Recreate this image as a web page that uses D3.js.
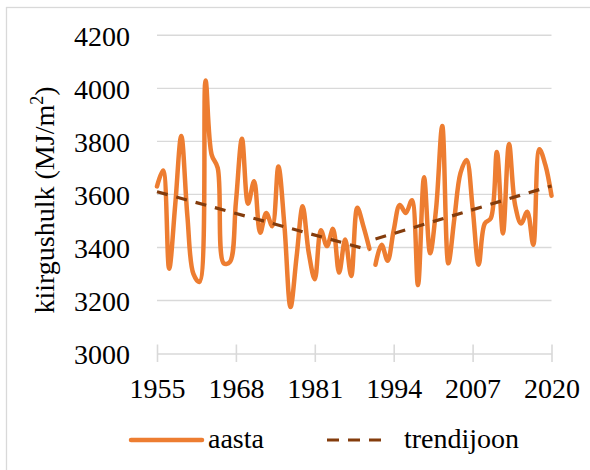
<!DOCTYPE html>
<html><head><meta charset="utf-8">
<script src="https://cdn.jsdelivr.net/npm/d3@7"></script>
<style>html,body{margin:0;padding:0;background:#fff;} svg{display:block;} svg text{font-family:'Liberation Serif','Times New Roman',serif;}</style>
</head><body>
<svg id="c" width="590" height="470"></svg>
<script>
// ---- data ----
const years1 = [1955,1956,1957,1958,1959,1960,1961,1962,1963,1964,1965,1966,1967,1968,1969,1970,1971,1972,1973,1974,1975,1976,1977,1978,1979,1980,1981,1982,1983,1984,1985,1986,1987,1988,1989,1990];
const values1 = [3630,3690,3320,3560,3820,3520,3300,3270,4030,3750,3700,3340,3345,3570,3810,3565,3650,3455,3530,3480,3705,3480,3175,3365,3555,3380,3280,3465,3405,3470,3305,3430,3292,3550,3480,3395];
const years2 = [1991,1992,1993,1994,1995,1996,1997,1998,1999,2000,2001,2002,2003,2004,2005,2006,2007,2008,2009,2010,2011,2012,2013,2014,2015,2016,2017,2018,2019,2020];
const values2 = [3335,3410,3350,3465,3560,3530,3578,3258,3665,3378,3550,3858,3340,3510,3680,3730,3550,3335,3490,3510,3760,3453,3790,3560,3490,3535,3410,3770,3710,3595];
const trend1Years = [1955,1990];
const trend1Values = [3610,3390];
const trend2Years = [1991,2020];
const trend2Values = [3432,3632];
const xTicks = [1955,1968,1981,1994,2007,2020];
const yTicks = [3000,3200,3400,3600,3800,4000,4200];
const seriesNames = ["aasta","trendijoon"];
const yTitleMain = "kiirgushulk (MJ/m";
const yTitleSup = "2";
const yTitleEnd = ")";

// ---- drawing ----
const FONT = "'Liberation Serif','Times New Roman',serif";
const ORANGE = "#ED7D31", BROWN = "#843C0C", GRID = "#d9d9d9";
const svg = d3.select("#c");
const L = 157, R = 551.5, T = 35.3, B = 353.5;
const x = d3.scaleLinear().domain([1955,2020]).range([L,R]);
const y = d3.scaleLinear().domain([3000,4200]).range([B,T]);

svg.append("rect").attr("x",6.5).attr("y",7.5).attr("width",620).attr("height",520)
  .attr("fill","#fff").attr("stroke",GRID).attr("stroke-width",1.3);

// gridlines
svg.append("g").selectAll("line").data(yTicks.filter(v=>v>3000)).join("line")
  .attr("x1",L).attr("x2",R).attr("y1",d=>y(d)).attr("y2",d=>y(d))
  .attr("stroke",GRID).attr("stroke-width",1.4);

// y axis labels
const ya = svg.append("g").attr("transform",`translate(${L},0)`)
  .call(d3.axisLeft(y).tickValues(yTicks).tickSize(0).tickPadding(27).tickFormat(d3.format("d")));
ya.attr("font-family",FONT).attr("font-size",28);
ya.select(".domain").remove();
ya.selectAll("text").style("font-family",FONT).attr("font-size",28).attr("fill","#000").attr("dy","0.36em");

// x axis
const xa = svg.append("g").attr("transform",`translate(0,${B})`)
  .call(d3.axisBottom(x).tickValues(xTicks).tickSize(0).tickFormat(d3.format("d")));
xa.attr("font-family",FONT).attr("font-size",28);
xa.select(".domain").attr("stroke",GRID).attr("stroke-width",1.6);
xa.selectAll(".tick line").attr("y1",-9).attr("y2",8.5).attr("stroke",GRID).attr("stroke-width",1.6);
xa.selectAll("text").style("font-family",FONT).attr("font-size",28).attr("fill","#000").attr("y",44.5).attr("dy",0);

// y title
const tt = svg.append("text").attr("transform","translate(54,200) rotate(-90)")
  .attr("text-anchor","middle").style("font-family",FONT).attr("font-size",28).attr("fill","#000");
tt.append("tspan").text(yTitleMain);
tt.append("tspan").text(yTitleSup).attr("font-size",18).attr("dy",-11);
tt.append("tspan").text(yTitleEnd).attr("font-size",28).attr("dy",11);

// data lines
const line = d3.line().x(d=>x(d[0])).y(d=>y(d[1])).curve(d3.curveCatmullRom.alpha(0.5));
[[years1,values1],[years2,values2]].forEach(([ys,vs])=>{
  svg.append("path").datum(ys.map((yr,i)=>[yr,vs[i]])).attr("d",line)
    .attr("fill","none").attr("stroke",ORANGE).attr("stroke-width",4.5)
    .attr("stroke-linejoin","round").attr("stroke-linecap","round");
});
// trend lines
const tline = d3.line().x(d=>x(d[0])).y(d=>y(d[1]));
[[trend1Years,trend1Values],[trend2Years,trend2Values]].forEach(([ys,vs])=>{
  svg.append("path").datum(ys.map((yr,i)=>[yr,vs[i]])).attr("d",tline)
    .attr("fill","none").attr("stroke",BROWN).attr("stroke-width",3.2)
    .attr("stroke-dasharray","11,9");
});

// legend
const lg = svg.append("g");
lg.append("line").attr("x1",131).attr("x2",202).attr("y1",440).attr("y2",440)
  .attr("stroke",ORANGE).attr("stroke-width",4.5).attr("stroke-linecap","round");
lg.append("text").attr("x",208).attr("y",448).text(seriesNames[0])
  .style("font-family",FONT).attr("font-size",28).attr("fill","#000");
lg.append("line").attr("x1",327).attr("x2",389).attr("y1",440).attr("y2",440)
  .attr("stroke",BROWN).attr("stroke-width",3.2).attr("stroke-dasharray","12,9");
lg.append("text").attr("x",404).attr("y",448).text(seriesNames[1])
  .style("font-family",FONT).attr("font-size",28).attr("fill","#000");
</script>
</body></html>
